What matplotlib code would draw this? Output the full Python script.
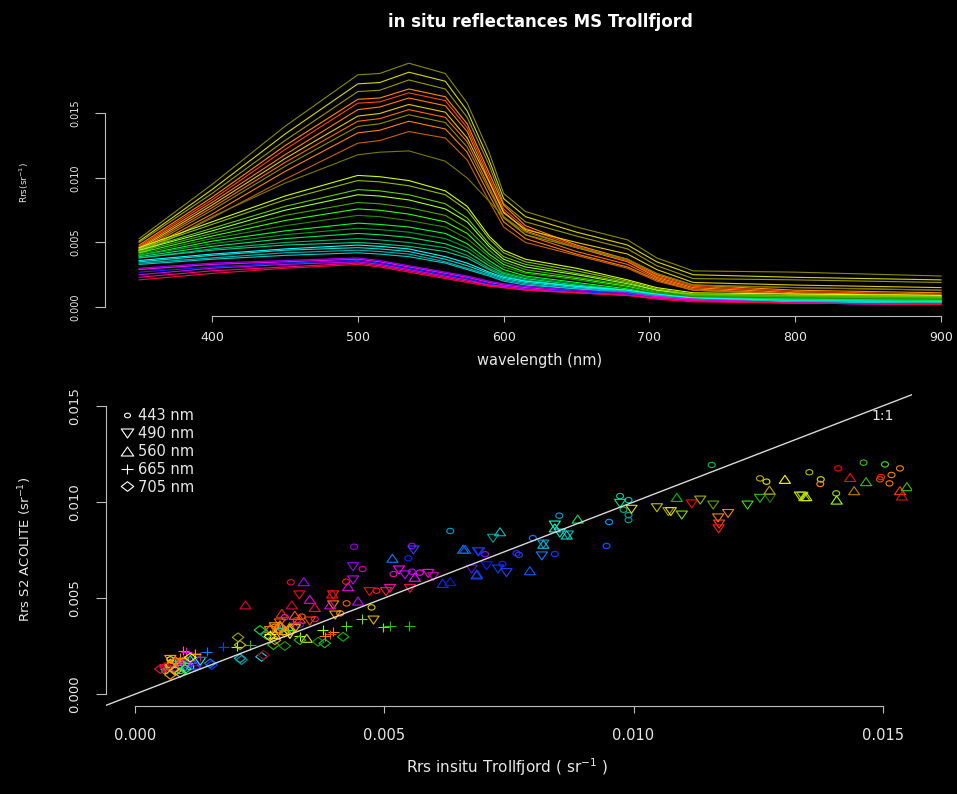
import numpy as np
import matplotlib.pyplot as plt
from matplotlib.path import Path
from matplotlib.lines import Line2D

W, H = 957, 794

wavelength = [350, 400, 450, 500, 515, 535, 560, 575, 590, 600, 615, 650, 685, 705, 730, 800, 900]

# in situ Rrs spectra, units of 1e-4 sr^-1, one row per station
spectra_turbid = [
    [53, 95, 140, 180, 181, 189, 181, 158, 120, 88, 74, 62, 52, 38, 28, 27, 24],
    [51, 91, 134, 173, 174, 182, 175, 152, 114, 84, 70, 58, 48, 35, 25, 23, 21],
    [50, 88, 129, 167, 168, 176, 169, 147, 110, 80, 66, 55, 45, 32, 22, 21, 19],
    [48, 85, 125, 161, 162, 169, 163, 142, 104, 79, 63, 48, 37, 25, 17, 13, 11],
    [47, 83, 122, 158, 159, 166, 160, 139, 101, 76, 61, 47, 36, 24, 16, 12, 10],
    [46, 81, 118, 153, 155, 162, 156, 136, 98, 74, 59, 46, 35, 23, 15, 11, 9],
    [45, 79, 115, 148, 150, 157, 151, 131, 97, 73, 60, 50, 41, 29, 19, 17, 15],
    [44, 77, 112, 144, 146, 153, 147, 128, 93, 70, 56, 43, 33, 22, 14, 10, 8],
    [43, 75, 109, 140, 142, 149, 143, 124, 91, 69, 56, 46, 37, 26, 17, 15, 13],
    [42, 72, 105, 135, 137, 144, 138, 120, 87, 66, 53, 41, 31, 21, 13, 10, 8],
    [41, 69, 99, 127, 129, 136, 131, 114, 82, 62, 50, 40, 30, 20, 13, 10, 8],
    [40, 70, 96, 118, 120, 121, 113, 100, 82, 70, 58, 46, 37, 26, 17, 15, 13],
]
colors_turbid = ['#8a8a00', '#d8d800', '#9a9a00', '#ff8c00', '#ff4500', '#ff7f00',
                 '#e6c800', '#ff6a00', '#8f8f00', '#ff8000', '#c86400', '#7a7a00']

spectra_green = [
    [46, 66, 86, 102, 101, 98, 90, 78, 55, 44, 37, 30, 21, 15, 11, 10, 9],
    [45, 64, 83, 98, 97, 94, 87, 75, 53, 42, 35, 28, 20, 14, 10, 9, 8],
    [44, 61, 78, 91, 90, 87, 80, 69, 49, 39, 33, 26, 19, 13, 10, 9, 8],
    [44, 59, 75, 87, 86, 83, 76, 66, 47, 37, 31, 25, 18, 13, 9, 8, 7],
    [43, 57, 71, 81, 80, 77, 71, 61, 44, 35, 29, 23, 17, 12, 9, 8, 7],
    [42, 55, 67, 76, 75, 72, 66, 57, 41, 33, 27, 22, 16, 11, 8, 7, 6],
    [41, 53, 63, 71, 70, 67, 62, 53, 39, 31, 26, 21, 15, 11, 8, 7, 6],
    [40, 51, 59, 65, 64, 62, 57, 49, 36, 29, 24, 19, 14, 10, 7, 6, 5],
    [40, 49, 56, 61, 60, 58, 53, 46, 34, 27, 23, 18, 13, 10, 7, 6, 5],
    [39, 47, 53, 57, 56, 54, 49, 43, 32, 26, 22, 17, 13, 9, 7, 6, 5],
    [38, 45, 50, 53, 52, 50, 46, 40, 30, 25, 21, 16, 12, 9, 6, 5, 4],
    [38, 44, 48, 50, 49, 47, 43, 38, 29, 24, 20, 16, 12, 8, 6, 5, 4],
]
colors_green = ['#ccff00', '#8fbf00', '#66cc00', '#99ff33', '#44aa00', '#33ff00',
                '#2e8b00', '#00ff33', '#009a33', '#00e65c', '#00b36b', '#00cc88']

spectra_clear = [
    [36, 41, 45, 48, 47, 45, 39, 34, 27, 23, 20, 16, 13, 10, 7, 5, 4],
    [35, 40, 44, 46, 45, 43, 37, 32, 26, 22, 19, 15, 12, 9, 6, 5, 4],
    [34, 38, 42, 44, 43, 41, 35, 30, 25, 21, 18, 14, 12, 9, 6, 4, 3],
    [33, 37, 40, 42, 41, 39, 34, 29, 24, 20, 17, 14, 11, 8, 6, 4, 3],
    [30, 34, 36, 38, 36, 32, 27, 24, 20, 18, 16, 13, 11, 8, 6, 3, 2],
    [29, 33, 35, 37, 35, 31, 26, 23, 19, 17, 15, 12, 10, 8, 6, 3, 2],
    [27, 31, 34, 36, 34, 30, 25, 22, 18, 16, 14, 12, 10, 7, 5, 3, 2],
    [25, 30, 33, 35, 33, 29, 24, 21, 17, 16, 14, 11, 9, 7, 5, 3, 2],
    [23, 28, 31, 34, 32, 28, 23, 20, 17, 15, 13, 11, 9, 7, 5, 3, 2],
    [21, 26, 30, 33, 31, 27, 22, 19, 16, 15, 13, 11, 9, 6, 4, 3, 2],
]
colors_clear = ['#00ffff', '#00e0d0', '#00b3b3', '#00cccc',
                '#9900ff', '#ff00ff', '#0033ff', '#cc00ff', '#ff0080', '#ff0040']

# matchups: in situ Rrs (x) vs Sentinel-2 ACOLITE Rrs (y), sr^-1
x443 = [0.01157, 0.00973, 0.00990, 0.00980, 0.00990,
        0.00990, 0.00951, 0.00946, 0.00851, 0.00798,
        0.00842, 0.00632, 0.00765, 0.00770, 0.00702,
        0.00737, 0.01254, 0.01267, 0.01353, 0.01376,
        0.01375, 0.01407, 0.01411, 0.01462, 0.01505,
        0.01495, 0.01497, 0.01518, 0.01535, 0.01514,
        0.00439, 0.00456, 0.00312, 0.00484, 0.00548,
        0.00555, 0.00518, 0.00555, 0.00571, 0.00423,
        0.00474, 0.00424, 0.00411, 0.00334, 0.00324,
        0.00300, 0.00330, 0.00280, 0.00360, 0.00070,
        0.00080, 0.00090, 0.00060, 0.00100, 0.00120,
        0.00070, 0.00110, 0.00090, 0.00290]
y443 = [0.01193, 0.01031, 0.01010, 0.00960, 0.00932,
        0.00906, 0.00896, 0.00771, 0.00929, 0.00812,
        0.00729, 0.00849, 0.00733, 0.00725, 0.00728,
        0.00677, 0.01123, 0.01106, 0.01155, 0.01118,
        0.01094, 0.01045, 0.01175, 0.01205, 0.01196,
        0.01118, 0.01130, 0.01141, 0.01175, 0.01097,
        0.00767, 0.00651, 0.00582, 0.00538, 0.00707,
        0.00771, 0.00625, 0.00637, 0.00632, 0.00585,
        0.00451, 0.00472, 0.00420, 0.00403, 0.00385,
        0.00400, 0.00360, 0.00350, 0.00390, 0.00150,
        0.00130, 0.00170, 0.00120, 0.00180, 0.00160,
        0.00180, 0.00140, 0.00120, 0.00330]
c443 = ['#00c040', '#00d0a0', '#00c0c0', '#00c080', '#00a0a0',
        '#00a0a0', '#00a0ff', '#0060ff', '#00a0e0', '#0080ff',
        '#0040ff', '#00a0d0', '#4020ff', '#2040ff', '#a000ff',
        '#2020ff', '#c0b000', '#e0e000', '#b0c000', '#e0e000',
        '#ff9000', '#a0e000', '#ff0000', '#40c000', '#40e000',
        '#ff4000', '#ff2000', '#ff8000', '#ff8000', '#ff8000',
        '#a000e0', '#e000a0', '#e00040', '#ff2020', '#2020ff',
        '#a000ff', '#ff00c0', '#c000ff', '#ff00ff', '#ff2000',
        '#e0c000', '#ff6000', '#ff8000', '#ff6000', '#ff2000',
        '#ff00ff', '#8000ff', '#ffa000', '#ff0080', '#00ff80',
        '#0080ff', '#ff00ff', '#00ff00', '#ff8000', '#8000ff',
        '#ffff00', '#00ffff', '#00ff40', '#ffa000']

x490 = [0.00973, 0.00996, 0.01047, 0.01070, 0.01075,
        0.01097, 0.01117, 0.01134, 0.01160, 0.01170,
        0.01172, 0.01171, 0.01190, 0.01229, 0.01254,
        0.01274, 0.01334, 0.01339, 0.00842, 0.00852,
        0.00868, 0.00718, 0.00688, 0.00816, 0.00819,
        0.00728, 0.00745, 0.00675, 0.00705, 0.00437,
        0.00558, 0.00690, 0.00529, 0.00541, 0.00588,
        0.00598, 0.00511, 0.00551, 0.00470, 0.00503,
        0.00437, 0.00329, 0.00397, 0.00397, 0.00478,
        0.00401, 0.00290, 0.00320, 0.00270, 0.00350,
        0.00080, 0.00100, 0.00070, 0.00120, 0.00090,
        0.00060, 0.00130, 0.00280, 0.00310]
y490 = [0.00993, 0.00962, 0.00970, 0.00950, 0.00950,
        0.00932, 0.00990, 0.01010, 0.00984, 0.00917,
        0.00885, 0.00860, 0.00940, 0.00984, 0.01019,
        0.01019, 0.01031, 0.01030, 0.00880, 0.00838,
        0.00828, 0.00811, 0.00741, 0.00719, 0.00781,
        0.00651, 0.00632, 0.00650, 0.00668, 0.00663,
        0.00750, 0.00741, 0.00646, 0.00620, 0.00628,
        0.00611, 0.00550, 0.00550, 0.00533, 0.00533,
        0.00594, 0.00516, 0.00516, 0.00464, 0.00385,
        0.00411, 0.00370, 0.00340, 0.00330, 0.00380,
        0.00160, 0.00140, 0.00180, 0.00190, 0.00150,
        0.00130, 0.00170, 0.00350, 0.00310]
c490 = ['#00e080', '#e0e000', '#c0c000', '#a0a000', '#e0e000',
        '#80e000', '#ff0000', '#a0b000', '#60a000', '#ff8000',
        '#ff4000', '#ff2000', '#ff8000', '#40e000', '#20c000',
        '#208000', '#e0e000', '#a0e000', '#00ffc0', '#00e0e0',
        '#00c0c0', '#00a0a0', '#0060ff', '#0080ff', '#00a0e0',
        '#0040ff', '#2040ff', '#6000ff', '#0020ff', '#a000ff',
        '#4040ff', '#2020ff', '#ff00ff', '#c000ff', '#ff00e0',
        '#c000c0', '#ff00a0', '#ff0060', '#ff0000', '#ff2020',
        '#c000ff', '#ff0020', '#ff2000', '#ff8000', '#e0b000',
        '#ffa000', '#ff6000', '#ffc000', '#ff8000', '#ff4000',
        '#ff00ff', '#00c0ff', '#ffa000', '#8000ff', '#00ff00',
        '#ff0040', '#00ffff', '#ffa000', '#ffff00']

x560 = [0.01087, 0.00888, 0.00732, 0.00658, 0.00686,
        0.00792, 0.00842, 0.00866, 0.01304, 0.01273,
        0.01343, 0.01347, 0.01408, 0.01435, 0.01443,
        0.01467, 0.01535, 0.01539, 0.01549, 0.00819,
        0.00221, 0.00314, 0.00338, 0.00350, 0.00294,
        0.00360, 0.00395, 0.00391, 0.00427, 0.00447,
        0.00516, 0.00561, 0.00662, 0.00685, 0.00617,
        0.00632, 0.00344, 0.00290, 0.00310, 0.00270,
        0.00330, 0.00300, 0.00090, 0.00080, 0.00110,
        0.00070, 0.00120, 0.00320, 0.00280]
y560 = [0.01024, 0.00911, 0.00845, 0.00754, 0.00625,
        0.00642, 0.00865, 0.00828, 0.01118, 0.01062,
        0.01028, 0.01028, 0.01010, 0.01128, 0.01059,
        0.01106, 0.01059, 0.01031, 0.01080, 0.00780,
        0.00464, 0.00464, 0.00585, 0.00493, 0.00420,
        0.00451, 0.00521, 0.00464, 0.00559, 0.00484,
        0.00707, 0.00608, 0.00754, 0.00620, 0.00576,
        0.00585, 0.00290, 0.00360, 0.00350, 0.00340,
        0.00390, 0.00330, 0.00170, 0.00140, 0.00180,
        0.00160, 0.00150, 0.00410, 0.00310]
c560 = ['#00c000', '#00e060', '#00c0c0', '#0080ff', '#0040e0',
        '#0060ff', '#00ffc0', '#00e0c0', '#ffff00', '#c0a000',
        '#a0e000', '#e0e000', '#a0ff00', '#ff0000', '#c08000',
        '#40c000', '#ff4000', '#c02000', '#40c000', '#00c0e0',
        '#e00040', '#e00040', '#a000ff', '#e000e0', '#ff2000',
        '#ff0040', '#ff0020', '#e000e0', '#e000e0', '#c000ff',
        '#0080ff', '#ff00ff', '#0060ff', '#2040ff', '#2020ff',
        '#0020e0', '#e0e000', '#ff8000', '#ffa000', '#ff6000',
        '#ff4000', '#ffc000', '#ff8000', '#ff00c0', '#00ff80',
        '#ffff00', '#0080ff', '#ff6000', '#ffd000']

x665 = [0.00454, 0.00423, 0.00511, 0.00498, 0.00550,
        0.00376, 0.00397, 0.00176, 0.00203, 0.00230,
        0.00143, 0.00096, 0.00102, 0.00130, 0.00294,
        0.00307, 0.00317, 0.00391, 0.00380, 0.00270,
        0.00330, 0.00080, 0.00060, 0.00110, 0.00090,
        0.00120]
y665 = [0.00390, 0.00354, 0.00354, 0.00347, 0.00354,
        0.00333, 0.00325, 0.00247, 0.00247, 0.00255,
        0.00220, 0.00226, 0.00220, 0.00194, 0.00342,
        0.00333, 0.00368, 0.00310, 0.00300, 0.00310,
        0.00300, 0.00160, 0.00130, 0.00170, 0.00190,
        0.00210]
c665 = ['#40ff00', '#40e000', '#20c000', '#40ff40', '#20c000',
        '#a0ff00', '#ff8000', '#0040ff', '#a0ff00', '#20c000',
        '#0080ff', '#ff8000', '#ff00ff', '#ff0080', '#00e0e0',
        '#40ff00', '#ff00ff', '#ff4000', '#ff8000', '#ffff00',
        '#c0ff00', '#00ff40', '#ff8000', '#8000ff', '#ff8000',
        '#ffa000']

x705 = [0.00206, 0.00210, 0.00210, 0.00213, 0.00253,
        0.00257, 0.00153, 0.00277, 0.00300, 0.00330,
        0.00367, 0.00380, 0.00417, 0.00250, 0.00263,
        0.00290, 0.00310, 0.00270, 0.00070, 0.00080,
        0.00060, 0.00090, 0.00100, 0.00120, 0.00070,
        0.00150, 0.00080, 0.00100, 0.00050, 0.00110,
        0.00300, 0.00280]
y705 = [0.00295, 0.00255, 0.00186, 0.00177, 0.00194,
        0.00203, 0.00151, 0.00255, 0.00250, 0.00281,
        0.00272, 0.00264, 0.00298, 0.00333, 0.00307,
        0.00350, 0.00330, 0.00300, 0.00150, 0.00120,
        0.00140, 0.00110, 0.00160, 0.00140, 0.00100,
        0.00160, 0.00170, 0.00130, 0.00130, 0.00190,
        0.00320, 0.00280]
c705 = ['#a0a000', '#c0c000', '#00c0e0', '#00a0a0', '#00e0e0',
        '#a00020', '#0040ff', '#20c000', '#20a000', '#20c000',
        '#00a000', '#20c020', '#00c000', '#00e040', '#00a080',
        '#ff8000', '#ffa000', '#ffff00', '#ff8000', '#ffc000',
        '#ff0040', '#e0e000', '#ff00ff', '#8000ff', '#ffa000',
        '#0080ff', '#ff8000', '#00ff80', '#ff0060', '#ffff00',
        '#ff8000', '#ffa000']

band_labels = ['443 nm', '490 nm', '560 nm', '665 nm', '705 nm']

# R-like open symbols, a bit wider than tall as in the screenshot
circ = Path.unit_circle()
m_circle = Path(circ.vertices * [1.3, 1.0], circ.codes)
m_down = Path([(-0.6, 0.433), (0.6, 0.433), (0, -0.433), (-0.6, 0.433)], closed=True)
m_up = Path([(-0.6, -0.433), (0.6, -0.433), (0, 0.433), (-0.6, -0.433)], closed=True)
m_plus = Path([(-0.6, 0), (0.6, 0), (0, -0.5), (0, 0.5)],
              [Path.MOVETO, Path.LINETO, Path.MOVETO, Path.LINETO])
m_diamond = Path([(-0.65, 0), (0, 0.5), (0.65, 0), (0, -0.5), (-0.65, 0)], closed=True)

AXC = '#bdbdbd'
TXT = '#e8e8e8'


def box(x0, y0, x1, y1):
    return [x0 / W, 1 - y1 / H, (x1 - x0) / W, (y1 - y0) / H]


def r_style(ax, xb, yb):
    for s in ('top', 'right'):
        ax.spines[s].set_visible(False)
    ax.spines['bottom'].set_bounds(*xb)
    ax.spines['left'].set_bounds(*yb)
    for s in ('bottom', 'left'):
        ax.spines[s].set_color(AXC)
        ax.spines[s].set_linewidth(0.8)
    ax.tick_params(color=AXC, labelcolor=TXT, direction='out', width=0.8)


fig = plt.figure(figsize=(W / 100, H / 100), dpi=100, facecolor='black')

# top panel: spectra
ax1 = fig.add_axes(box(105, 53, 973, 316))
ax1.set_facecolor('black')
for rows, cols in ((spectra_turbid, colors_turbid), (spectra_green, colors_green),
                   (spectra_clear, colors_clear)):
    for r, c in zip(rows, cols):
        ax1.plot(wavelength, np.array(r) * 1e-4, color=c, lw=0.8)
ax1.set_xlim(326.6, 921.9)
ax1.set_ylim(-0.0007, 0.01969)
r_style(ax1, (400, 900), (0, 0.015))
ax1.set_xticks([400, 500, 600, 700, 800, 900])
ax1.set_yticks([0, 0.005, 0.010, 0.015])
ax1.set_yticklabels(['0.000', '0.005', '0.010', '0.015'], rotation=90, va='center')
ax1.tick_params(axis='x', length=4.5, pad=6, labelsize=9)
ax1.tick_params(axis='y', length=7, pad=10.4, labelsize=7)

# bottom panel: matchups
ax2 = fig.add_axes(box(105.6, 394.5, 912.4, 705.5))
ax2.set_facecolor('black')
ax2.set_xlim(-0.0006, 0.0156)
ax2.set_ylim(-0.0006, 0.0156)
ax2.axline((0, 0), slope=1, color='#d9d9d9', lw=1)
bands = [(x443, y443, c443, m_circle, 25), (x490, y490, c490, m_down, 64),
         (x560, y560, c560, m_up, 64), (x665, y665, c665, m_plus, 64),
         (x705, y705, c705, m_diamond, 69)]
for x, y, c, mk, s in bands:
    ax2.scatter(x, y, s=s, marker=mk, facecolors='none', edgecolors=c, linewidths=0.8)
ax2.text(0.015, 0.0145, '1:1', color=TXT, fontsize=10, ha='center', va='center')
r_style(ax2, (0, 0.015), (0, 0.015))
ticks = [0, 0.005, 0.010, 0.015]
ax2.set_xticks(ticks)
ax2.set_xticklabels(['0.000', '0.005', '0.010', '0.015'])
ax2.set_yticks(ticks)
ax2.set_yticklabels(['0.000', '0.005', '0.010', '0.015'], rotation=90, va='center')
ax2.tick_params(axis='x', length=5, pad=11, labelsize=10.5)
ax2.tick_params(axis='y', length=7, pad=10.8, labelsize=9.5)

handles = [Line2D([], [], ls='none', marker=mk, markersize=ms, markerfacecolor='none',
                  markeredgecolor='white', markeredgewidth=0.8)
           for mk, ms in zip([m_circle, m_down, m_up, m_plus, m_diamond], [4.3, 9, 9, 8.5, 9])]
ax2.legend(handles, band_labels, loc='upper left', bbox_to_anchor=(0.0175, 0.955),
           frameon=False, borderpad=0, borderaxespad=0, handlelength=1.0,
           handletextpad=0.25, labelspacing=0.19, fontsize=10.5, labelcolor=TXT)

# titles and axis labels, placed like the R device output
fig.text(540 / W, 1 - 22 / H, 'in situ reflectances MS Trollfjord', color='white',
         fontsize=12, fontweight='bold', ha='center', va='center')
fig.text(540 / W, 1 - 361 / H, 'wavelength (nm)', color=TXT, fontsize=10.5,
         ha='center', va='center')
fig.text(24 / W, 1 - 183 / H, r'Rrs(sr$^{-1}$)', color=TXT, fontsize=6.5,
         rotation=90, ha='center', va='center')
fig.text(507 / W, 1 - 767 / H, r'Rrs insitu Trollfjord ( sr$^{-1}$ )', color=TXT,
         fontsize=11, ha='center', va='center')
fig.text(25 / W, 1 - 549 / H, r'Rrs S2 ACOLITE (sr$^{-1}$)', color=TXT, fontsize=9.5,
         rotation=90, ha='center', va='center')

fig.savefig('out.png', dpi=100, facecolor='black')
